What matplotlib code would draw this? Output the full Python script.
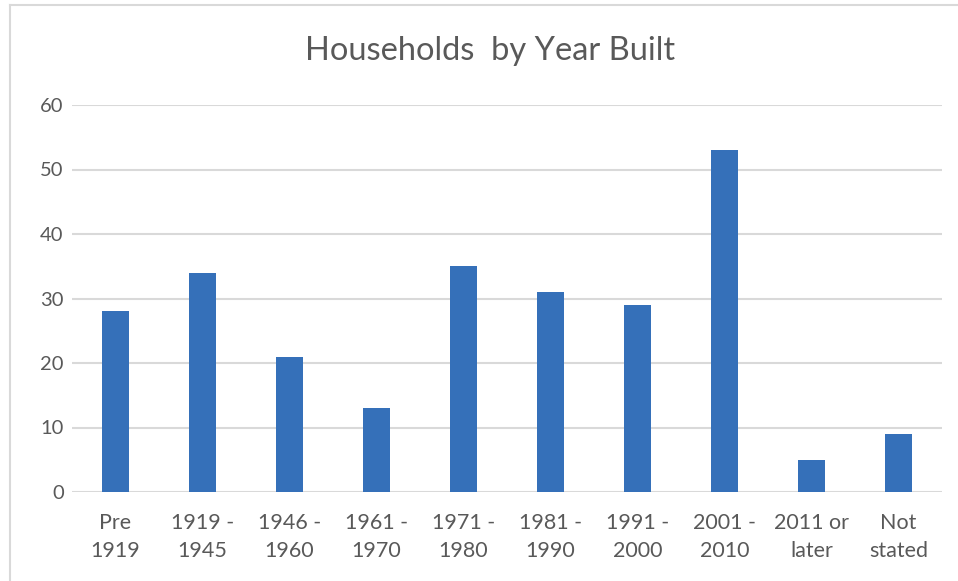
import matplotlib.pyplot as plt
from matplotlib.lines import Line2D

categories = ['Pre\n1919', '1919 -\n1945', '1946 -\n1960', '1961 -\n1970', '1971 -\n1980',
              '1981 -\n1990', '1991 -\n2000', '2001 -\n2010', '2011 or\nlater', 'Not\nstated']
households = [28, 34, 21, 13, 35, 31, 29, 53, 5, 9]
y_ticks = [0, 10, 20, 30, 40, 50, 60]


def main():
    plt.rcParams['font.family'] = ['Lato', 'DejaVu Sans']
    fig = plt.figure(figsize=(9.58, 5.81), dpi=100)
    ax = fig.add_axes([72 / 958, 1 - 492 / 581, 870 / 958, 387 / 581])

    x = list(range(len(categories)))
    ax.bar(x, households, width=0.31, color='#3570b9', zorder=3)

    ax.set_xlim(-0.5, len(categories) - 0.5)
    ax.set_ylim(0, 60)
    ax.set_yticks(y_ticks)
    ax.set_xticks(x)
    ax.set_xticklabels(categories, linespacing=1.5)
    ax.tick_params(axis='x', length=0, labelsize=15.5, colors='#595959', pad=15)
    ax.tick_params(axis='y', length=0, labelsize=14.5, colors='#595959', pad=6)
    ax.grid(axis='y', color='#d9d9d9', linewidth=1.5, zorder=0)
    for s in ax.spines.values():
        s.set_visible(False)

    fig.text(490 / 958, 1 - 51 / 581, 'Households  by Year Built', ha='center', va='center',
             fontsize=23.5, color='#595959')

    # chart border
    fig.add_artist(Line2D([10 / 958, 10 / 958], [0, 1 - 5 / 581], transform=fig.transFigure,
                          color='#d9d9d9', linewidth=1.5))
    fig.add_artist(Line2D([10 / 958, 1], [1 - 5 / 581, 1 - 5 / 581], transform=fig.transFigure,
                          color='#d9d9d9', linewidth=1.5))

    fig.savefig('out.png', dpi=100)


if __name__ == '__main__':
    main()
